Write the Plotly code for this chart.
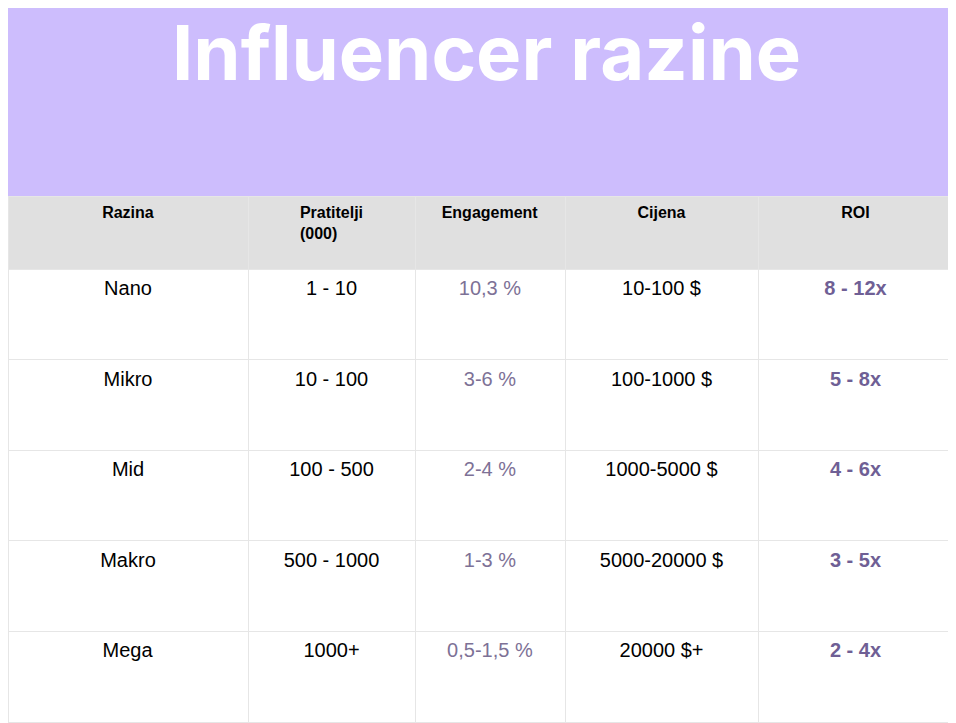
import plotly.graph_objects as go

title = "Influencer razine"
headers = ["Razina", "Pratitelji<br>(000)", "Engagement", "Cijena", "ROI"]
razina = ["Nano", "Mikro", "Mid", "Makro", "Mega"]
pratitelji = ["1 - 10", "10 - 100", "100 - 500", "500 - 1000", "1000+"]
engagement = ["10,3 %", "3-6 %", "2-4 %", "1-3 %", "0,5-1,5 %"]
cijena = ["10-100 $", "100-1000 $", "1000-5000 $", "5000-20000 $", "20000 $+"]
roi = ["8 - 12x", "5 - 8x", "4 - 6x", "3 - 5x", "2 - 4x"]

W, H = 956, 723

# plotly tables only top-align, so push text down with a blank line
def pad(items, bold=False):
    return ["<br>" + ("<b>" + s + "</b>" if bold else s) for s in items]

head_txt = ["<b>" + h + "</b>" if "<br>" in h else "<br><b>" + h + "</b>" for h in headers]

fig = go.Figure()
fig.add_trace(go.Table(
    domain=dict(x=[0, 945 / W], y=[0.005, 1 - 188 / H]),
    columnwidth=[240, 167, 150, 193, 195],
    header=dict(
        values=head_txt,
        fill_color="#e0e0e0",
        line_color="#e6e6e6",
        font=dict(family="Liberation Sans, Arial", size=16, color="black"),
        align="center",
        height=73,
    ),
    cells=dict(
        values=[pad(razina), pad(pratitelji), pad(engagement), pad(cijena),
                pad(roi, bold=True)],
        fill_color="white",
        line_color="#e6e6e6",
        font=dict(family="Liberation Sans, Arial", size=20,
                  color=["black", "black", "#7d7196", "black", "#6f5f95"]),
        align="center",
        height=90.6,
    ),
))

# purple banner with title
fig.add_shape(type="rect", xref="paper", yref="paper",
              x0=0, x1=945 / W, y0=1 - 188 / H, y1=1.02,
              fillcolor="#cdbdfd", line_width=0, layer="below")
fig.add_annotation(text="<b>" + title + "</b>", xref="paper", yref="paper",
                   x=0.5, y=1 - 44 / H, yanchor="middle", showarrow=False,
                   font=dict(family="Inter, Roboto", size=76, color="white"))

fig.update_layout(width=W, height=H, margin=dict(l=0, r=0, t=0, b=0),
                  paper_bgcolor="white")
fig.write_html("out.html")
